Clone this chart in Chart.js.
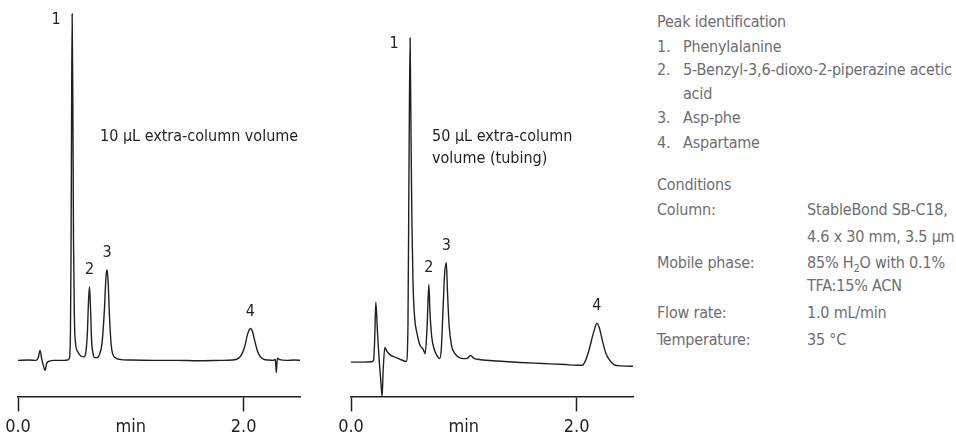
<!DOCTYPE html>
<html>
<head>
<meta charset="utf-8">
<script src="https://cdn.jsdelivr.net/npm/chart.js@4.4.1/dist/chart.umd.min.js"></script>
<style>
  body { margin: 0; width: 956px; height: 436px; background: #fff; position: relative; overflow: hidden;
         font-family: "Liberation Sans Narrow", "DejaVu Sans Condensed", "Roboto", sans-serif; }
  .box { position: absolute; top: 0; height: 443px; }
  #boxA { left: 0; width: 320px; }
  #boxB { left: 320px; width: 330px; }
  .note { position: absolute; color: #231f20; font-size: 16px; line-height: 22px; white-space: nowrap; }
  .panel { position: absolute; color: #6d6e71; font-size: 16px; letter-spacing: -0.2px; white-space: nowrap; }
  .panel div { position: absolute; white-space: nowrap; }
  sub { font-size: 11px; line-height: 0; }
</style>
</head>
<body>
<div class="box" id="boxA"><canvas id="chartA"></canvas></div>
<div class="box" id="boxB"><canvas id="chartB"></canvas></div>

<div class="note" style="left:100px; top:125px;">10 µL extra-column volume</div>
<div class="note" style="left:432px; top:125px;">50 µL extra-column<br>volume (tubing)</div>

<div class="panel" id="panel"></div>

<script>
// Chromatogram 1: 10 uL extra-column volume (time in min, signal rel. to peak 1)
const timeA = [0.00, 0.10, 0.16, 0.18, 0.195, 0.21, 0.225, 0.24, 0.255, 0.28, 0.32, 0.40, 0.44, 0.455, 0.465,
  0.47, 0.475, 0.48, 0.486, 0.492, 0.50, 0.51, 0.53, 0.56, 0.585, 0.60, 0.615, 0.625, 0.634, 0.643, 0.652,
  0.665, 0.68, 0.70, 0.72, 0.745, 0.765, 0.78, 0.79, 0.80, 0.812, 0.826, 0.84, 0.86, 0.90, 1.00, 1.20, 1.40,
  1.60, 1.80, 1.90, 1.95, 1.98, 2.01, 2.035, 2.06, 2.08, 2.10, 2.125, 2.15, 2.18, 2.22, 2.26, 2.28, 2.285,
  2.29, 2.295, 2.30, 2.32, 2.38, 2.45, 2.51];
const signalA = [0, 0.1, 0, 0.8, 2.9, 0.5, -1.5, -2.9, -0.8, -0.2, 0, 0, 0.1, 0.6, 8,
  30, 70, 100, 75, 35, 12, 5, 2.5, 1.2, 1, 2, 8, 17, 21.3, 15, 6,
  2, 0.8, 0.8, 1.5, 5, 14, 24, 26.2, 22, 12, 4.5, 1.8, 0.8, 0.3, 0.1, 0, 0,
  -0.1, 0, 0.1, 0.5, 1.5, 4, 7.5, 9.2, 8.2, 5.5, 2.5, 1, 0.3, 0.1, 0, 0.3, -1,
  -3.5, -1, 0.6, 0.2, 0, 0.1, 0];

// Chromatogram 2: 50 uL extra-column volume (tubing)
const timeB = [0.00, 0.10, 0.18, 0.20, 0.21, 0.22, 0.235, 0.25, 0.262, 0.276, 0.285, 0.30, 0.32, 0.35, 0.40,
  0.45, 0.49, 0.505, 0.515, 0.524, 0.532, 0.54, 0.55, 0.565, 0.584, 0.61, 0.64, 0.658, 0.675, 0.69, 0.70,
  0.715, 0.735, 0.76, 0.785, 0.80, 0.815, 0.83, 0.845, 0.855, 0.87, 0.89, 0.92, 0.96, 1.00, 1.03, 1.06,
  1.09, 1.15, 1.30, 1.50, 1.70, 1.90, 2.00, 2.05, 2.08, 2.11, 2.15, 2.18, 2.205, 2.23, 2.26, 2.29, 2.33,
  2.40, 2.51];
const signalB = [-0.5, -0.5, -0.4, 0, 6, 16.8, 8, 0, -5, -10.4, -3, 3.7, 2.5, 1.5, 0.8,
  0.1, -0.3, 10, 60, 93.1, 65, 40, 22, 12, 8, 4.5, 3.2, 2, 10, 21.9, 14,
  7, 3.5, 1.5, 0.5, 3, 14, 25, 28.2, 20, 10, 4.5, 2, 0.8, 0.5, 0.6, 1.4,
  0.6, 0.2, -0.2, -0.6, -0.9, -1.2, -1.4, -1.4, 0, 3, 8, 10.7, 9, 5.5, 2, 0.2, -1.2,
  -1.6, -1.7];

const peakNames = ['1', '2', '3', '4'];
const peakTimesA = [0.48, 0.634, 0.79, 2.06];
const peakTimesB = [0.524, 0.69, 0.845, 2.18];
const xTicks = [0, 1, 2];
const xTickLabels = ['0.0', 'min', '2.0'];

const ink = '#231f20';
const fontFamily = '"Liberation Sans Narrow", "DejaVu Sans Condensed", Roboto, sans-serif';

// Peak number labels, placed from the data through the scales
const peakLabels = {
  id: 'peakLabels',
  afterDatasetsDraw(chart, args, opts) {
    const { ctx, scales: { x, y } } = chart;
    const pts = chart.data.datasets[0].data;
    ctx.save();
    ctx.fillStyle = ink;
    ctx.font = '16px ' + fontFamily;
    ctx.textAlign = 'center';
    ctx.textBaseline = 'middle';
    opts.times.forEach((t, i) => {
      const p = pts.reduce((a, b) => Math.abs(b.x - t) < Math.abs(a.x - t) ? b : a);
      const px = x.getPixelForValue(p.x);
      const py = y.getPixelForValue(p.y);
      if (i === 0) ctx.fillText(peakNames[i], px - 16, py + 6);
      else ctx.fillText(peakNames[i], px, py - 17);
    });
    ctx.restore();
  }
};

function makeChart(id, times, signal, peakTimes, padLeft, padRight) {
  const points = times.map((t, i) => ({ x: t, y: signal[i] }));
  return new Chart(document.getElementById(id), {
    type: 'line',
    data: {
      datasets: [{
        data: points,
        borderColor: ink,
        borderWidth: 1.4,
        pointRadius: 0,
        fill: false,
        cubicInterpolationMode: 'monotone'
      }]
    },
    options: {
      responsive: true,
      maintainAspectRatio: false,
      animation: false,
      layout: { padding: { left: padLeft, right: padRight, top: 5, bottom: 0 } },
      plugins: {
        legend: { display: false },
        tooltip: { enabled: false },
        peakLabels: { times: peakTimes }
      },
      scales: {
        x: {
          type: 'linear',
          min: 0,
          max: 2.5,
          afterBuildTicks: axis => { axis.ticks = xTicks.map(v => ({ value: v })); },
          ticks: {
            color: ink,
            font: { size: 18, family: fontFamily },
            padding: 5,
            maxRotation: 0,
            callback: (v) => xTickLabels[xTicks.indexOf(v)]
          },
          grid: {
            drawOnChartArea: false,
            drawTicks: true,
            tickLength: 15,
            tickWidth: 1.5,
            tickColor: c => (c.tick && c.tick.value === 1) ? 'rgba(0,0,0,0)' : ink
          },
          border: { display: true, color: ink, width: 1.5 }
        },
        y: {
          display: false,
          min: -10.4,
          max: 102.6
        }
      }
    },
    plugins: [peakLabels]
  });
}

makeChart('chartA', timeA, signalA, peakTimesA, 18, 20);
makeChart('chartB', timeB, signalB, peakTimesB, 31, 17);

// Side panel text
const panelLines = [
  [657, 22, 'Peak identification'],
  [657, 47, '1.'], [683, 47, 'Phenylalanine'],
  [657, 70, '2.'], [683, 70, '5-Benzyl-3,6-dioxo-2-piperazine acetic'],
  [683, 94, 'acid'],
  [657, 118, '3.'], [683, 118, 'Asp-phe'],
  [657, 143, '4.'], [683, 143, 'Aspartame'],
  [657, 185, 'Conditions'],
  [657, 210, 'Column:'], [807, 210, 'StableBond SB-C18,'],
  [807, 237, '4.6 x 30 mm, 3.5 µm'],
  [657, 263, 'Mobile phase:'], [807, 263, '85% H<sub>2</sub>O with 0.1%'],
  [807, 286, 'TFA:15% ACN'],
  [657, 313, 'Flow rate:'], [807, 313, '1.0 mL/min'],
  [657, 340, 'Temperature:'], [807, 340, '35 °C']
];
const panel = document.getElementById('panel');
panelLines.forEach(([left, mid, text]) => {
  const d = document.createElement('div');
  d.style.left = left + 'px';
  d.style.top = (mid - 11) + 'px';
  d.style.lineHeight = '22px';
  d.innerHTML = text;
  panel.appendChild(d);
});
</script>
</body>
</html>
